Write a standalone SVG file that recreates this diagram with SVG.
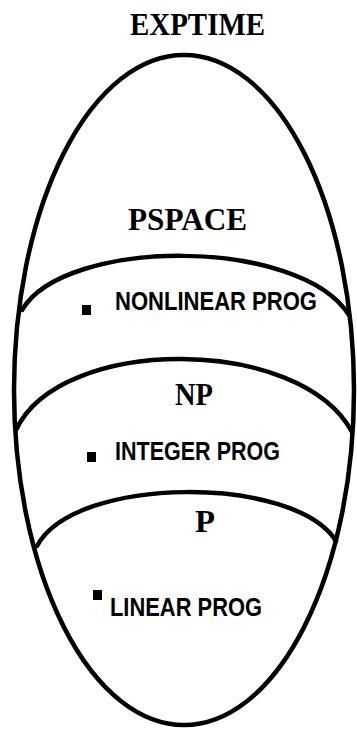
<svg xmlns="http://www.w3.org/2000/svg" width="357" height="730" viewBox="0 0 357 730">
<style>
.b{fill:none;stroke:#000;stroke-width:4.5;stroke-linecap:round}
.s{font-family:"Liberation Serif","Times New Roman",serif;font-weight:bold;font-size:32px;fill:#000}
.t{font-family:"Liberation Sans",Arial,sans-serif;font-weight:bold;font-size:25px;fill:#000}
.d{fill:#000}
</style>
<rect width="357" height="730" fill="#fff"/>
<g id="exptime">
<ellipse class="b" cx="184" cy="390" rx="170" ry="335"/>
<text class="s" x="130" y="35" textLength="135" lengthAdjust="spacingAndGlyphs">EXPTIME</text>
</g>
<g id="pspace">
<path class="b" d="M22,310 C65,237 300,237 349,315"/>
<text class="s" x="128" y="230" textLength="119" lengthAdjust="spacingAndGlyphs">PSPACE</text>
</g>
<g id="np">
<path class="b" d="M16,430 C60,335 300,335 352,432"/>
<text class="s" x="175" y="405" textLength="38" lengthAdjust="spacingAndGlyphs">NP</text>
</g>
<g id="p">
<path class="b" d="M37,546 C75,475 295,475 336,541"/>
<text class="s" x="195" y="532" textLength="20" lengthAdjust="spacingAndGlyphs">P</text>
</g>
<g id="nonlinear-prog">
<rect class="d" x="82" y="305" width="9" height="10"/>
<text class="t" x="115" y="310" textLength="202" lengthAdjust="spacingAndGlyphs">NONLINEAR PROG</text>
</g>
<g id="integer-prog">
<rect class="d" x="87" y="452" width="9" height="10"/>
<text class="t" x="115" y="460" textLength="165" lengthAdjust="spacingAndGlyphs">INTEGER PROG</text>
</g>
<g id="linear-prog">
<rect class="d" x="93" y="590" width="9" height="10"/>
<text class="t" x="110" y="616" textLength="152" lengthAdjust="spacingAndGlyphs">LINEAR PROG</text>
</g>
<g id="connectors"/>
</svg>
